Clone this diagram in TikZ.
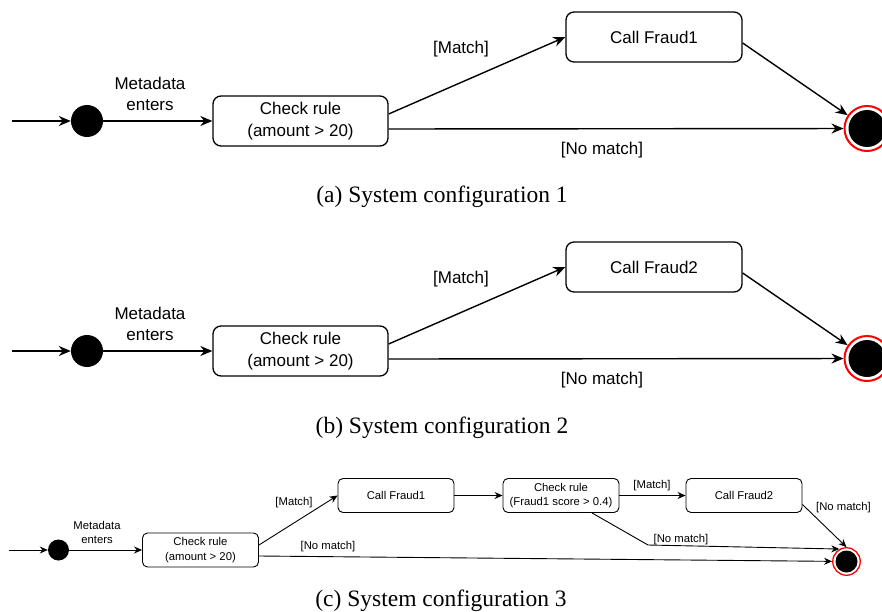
\documentclass[tikz,border=0pt]{standalone}
\usepackage{fontspec}
\setmainfont{Liberation Serif}
\newfontfamily\diagfont{Liberation Sans}
\usetikzlibrary{arrows.meta}

% Draws one two-branch configuration: #1 vertical offset, #2 sub-figure letter, #3 fraud service number
\newcommand{\fraudflow}[3]{%
  \begin{scope}[yshift=-#1pt]
    \coordinate (in#2) at (12,121);
    \node[bigstart] (s#2) at (87,121) {};
    \node[bigstate] (c#2) at (300.5,121) {Check rule\\(amount > 20)};
    \node[bigstate, minimum width=176pt] (f#2) at (654,37) {Call Fraud#3};
    \node[bigring] (e#2) at (867,128.5) {};
    \node[bigcore] (k#2) at (e#2) {};
    \node[biglabel] (lm#2) at (150,93.5) {Metadata\\enters};
    \node[biglabel] (ly#2) at (461,49) {[Match]};
    \node[biglabel] (ln#2) at (602,150) {[No match]};
    \draw[bigflow] (in#2) -- (s#2);
    \draw[bigflow] (s#2) -- (c#2);
    \draw[bigflow] ([yshift=7pt]c#2.east) -- (f#2.west);
    \draw[bigflow] ([yshift=-8pt]c#2.east) -- (e#2);
    \draw[bigflow] ([yshift=-6pt]f#2.east) -- (e#2);
    \node[caption] (cap#2) at (442,203) {(#2) System configuration #3};
  \end{scope}}

\begin{document}
\begin{tikzpicture}[x=1pt,y=-1pt,
  bigflow/.style={line width=1.4pt, -{Stealth[length=12pt,width=10pt]}},
  smallflow/.style={line width=0.9pt, -{Stealth[length=8pt,width=7pt]}},
  bigstate/.style={draw, rounded corners=8pt, line width=1.3pt, minimum width=175pt,
    minimum height=50pt, inner sep=0pt, align=center,
    font=\diagfont\fontsize{17}{22}\selectfont},
  smallstate/.style={draw, rounded corners=5pt, line width=0.9pt, minimum width=116pt,
    minimum height=34pt, inner sep=0pt, align=center,
    font=\diagfont\fontsize{11.3}{14.5}\selectfont},
  biglabel/.style={inner sep=0pt, align=center, font=\diagfont\fontsize{17}{21}\selectfont},
  smalllabel/.style={inner sep=0pt, align=center, font=\diagfont\fontsize{11.3}{14}\selectfont},
  bigstart/.style={circle, fill=black, minimum size=32pt, inner sep=0pt},
  smallstart/.style={circle, fill=black, minimum size=21pt, inner sep=0pt},
  bigring/.style={circle, draw=red, line width=2pt, minimum size=45pt, inner sep=0pt},
  bigcore/.style={circle, fill=black, minimum size=37pt, inner sep=0pt},
  smallring/.style={circle, draw=red, line width=1.3pt, minimum size=27.5pt, inner sep=0pt},
  smallcore/.style={circle, fill=black, minimum size=22pt, inner sep=0pt},
  caption/.style={anchor=base, inner sep=0pt, font=\fontsize{23.5}{28}\selectfont}]

\useasboundingbox (0,0) rectangle (882,612);
\fill[white] (0,0) rectangle (882,612);

% (a) and (b): one rule, one fraud service
\fraudflow{0}{a}{1}
\fraudflow{230}{b}{2}

% (c): chained rules and two fraud services
\coordinate (in3) at (9,550);
\node[smallstart] (s3) at (58.5,550) {};
\node[smallstate] (c3a) at (200.5,550) {Check rule\\(amount > 20)};
\node[smallstate] (f3a) at (396,495.5) {Call Fraud1};
\node[smallstate] (c3b) at (561,495.5) {Check rule\\(Fraud1 score > 0.4)};
\node[smallstate] (f3b) at (744,495.5) {Call Fraud2};
\node[smallring] (e3) at (846.5,561.5) {};
\node[smallcore] (k3) at (e3) {};
\coordinate (t3) at (648,545);

\node[smalllabel] (lm3) at (97,532) {Metadata\\enters};
\node[smalllabel] (ly3a) at (294,503) {[Match]};
\node[smalllabel] (ln3a) at (328,547) {[No match]};
\node[smalllabel] (ly3b) at (652,486) {[Match]};
\node[smalllabel] (ln3b) at (681,540) {[No match]};
\node[smalllabel] (ln3c) at (843.5,508) {[No match]};

\draw[smallflow] (in3) -- (s3);
\draw[smallflow] (s3) -- (c3a);
\draw[smallflow] ([yshift=5pt]c3a.east) -- (f3a.west);
\draw[smallflow] ([yshift=-6pt]c3a.east) -- (e3);
\draw[smallflow] (f3a.east) -- (c3b.west);
\draw[smallflow] (c3b.east) -- (f3b.west);
\draw[smallflow] ([yshift=-9pt]f3b.east) -- (e3.north);
\draw[smallflow] ([xshift=31pt]c3b.south) -- (t3) -- (e3.120);

\node[caption] (cap3) at (441,606) {(c) System configuration 3};
\end{tikzpicture}
\end{document}
